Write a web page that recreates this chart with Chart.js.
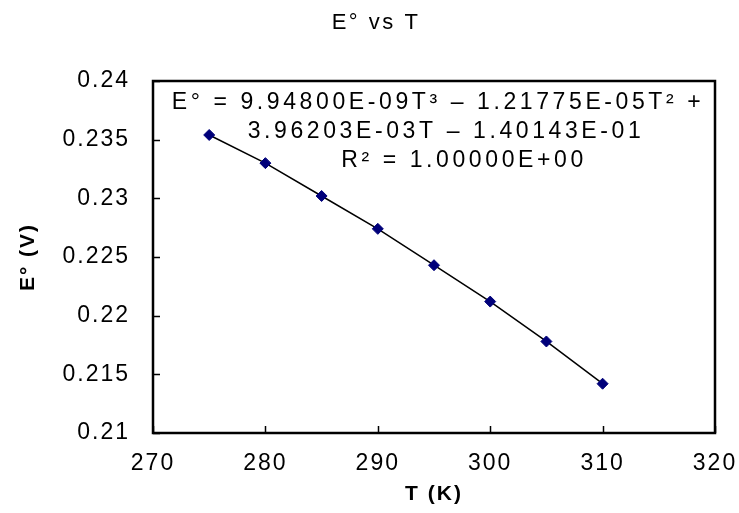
<!DOCTYPE html>
<html>
<head>
<meta charset="utf-8">
<script src="https://cdn.jsdelivr.net/npm/chart.js@4.4.1/dist/chart.umd.min.js"></script>
<style>
  html, body { margin: 0; padding: 0; background: #fff; }
  canvas { display: block; }
</style>
</head>
<body>
<canvas id="eChart" width="739" height="513"></canvas>
<script>
const temps = [275, 280, 285, 290, 295, 300, 305, 310];
const potentials = [0.2354, 0.2330, 0.2302, 0.2274, 0.2243, 0.2212, 0.2178, 0.2142];
const xTickLabels = ['270', '280', '290', '300', '310', '320'];
const yTickLabels = ['0.21', '0.215', '0.22', '0.225', '0.23', '0.235', '0.24'];
const equationLines = [
    'E° = 9.94800E-09T³ – 1.21775E-05T² +',
    '3.96203E-03T – 1.40143E-01',
    'R² = 1.00000E+00'
];

const FONT = "'Liberation Sans', Arial, sans-serif";

// Excel-style look: spaced letters, inner ticks, boxed plot area
const excelLook = {
    id: 'excelLook',
    beforeUpdate(chart) { chart.ctx.letterSpacing = '2px'; },
    beforeDraw(chart) { chart.ctx.letterSpacing = '2px'; },
    afterDraw(chart) {
        const ctx = chart.ctx;
        const a = chart.chartArea;
        const xs = chart.scales.x, ys = chart.scales.y;
        ctx.save();
        ctx.strokeStyle = '#000';
        ctx.lineWidth = 1.5;
        ctx.beginPath();
        xs.ticks.forEach(t => {
            const px = Math.round(xs.getPixelForValue(t.value)) + 0.5;
            ctx.moveTo(px, a.bottom);
            ctx.lineTo(px, a.bottom - 7);
        });
        ys.ticks.forEach(t => {
            const py = Math.round(ys.getPixelForValue(t.value)) + 0.5;
            ctx.moveTo(a.left, py);
            ctx.lineTo(a.left + 7, py);
        });
        ctx.stroke();
        ctx.lineWidth = 2.5;
        ctx.strokeRect(a.left, a.top, a.right - a.left, a.bottom - a.top);

        ctx.fillStyle = '#000';
        ctx.textAlign = 'center';
        ctx.textBaseline = 'middle';
        ctx.font = '22px ' + FONT;
        ctx.letterSpacing = '2.5px';
        ctx.fillText('E° vs T', 376, 23);

        ctx.font = '23px ' + FONT;
        ctx.letterSpacing = '3.6px';
        const offsets = [285, 293, 311];
        equationLines.forEach((line, i) => {
            ctx.fillText(line, a.left + offsets[i], a.top + 22 + i * 29);
        });
        ctx.restore();
    }
};

new Chart(document.getElementById('eChart').getContext('2d'), {
    type: 'scatter',
    data: {
        datasets: [{
            data: temps.map((t, i) => ({ x: t, y: potentials[i] })),
            showLine: true,
            borderColor: '#000',
            borderWidth: 1.5,
            pointStyle: 'rectRot',
            pointRadius: 5.5,
            pointBackgroundColor: '#00007a',
            pointBorderColor: '#00007a',
            pointBorderWidth: 1
        }]
    },
    options: {
        responsive: false,
        animation: false,
        layout: { padding: { top: 81, right: 24, bottom: 0, left: 0 } },
        plugins: {
            legend: { display: false },
            tooltip: { enabled: false },
            title: { display: false }
        },
        scales: {
            x: {
                type: 'linear',
                min: 270,
                max: 320,
                afterFit: s => { s.height = 80; s.paddingLeft = 0; s.paddingRight = 0; },
                afterBuildTicks: s => {
                    s.ticks = xTickLabels.map(v => ({ value: Number(v) }));
                },
                grid: { display: false, drawTicks: false },
                border: { display: false },
                ticks: {
                    padding: 17,
                    color: '#000',
                    font: { size: 23, family: FONT },
                    maxRotation: 0,
                    callback: (v, i) => xTickLabels[i]
                },
                title: {
                    display: true,
                    text: 'T (K)',
                    color: '#000',
                    font: { size: 21, weight: 'bold', family: FONT },
                    padding: { top: 6, bottom: 6 }
                }
            },
            y: {
                min: 0.21,
                max: 0.24,
                afterFit: s => { s.width = 153; s.paddingTop = 0; s.paddingBottom = 0; },
                afterBuildTicks: s => {
                    s.ticks = yTickLabels.map(v => ({ value: Number(v) }));
                },
                grid: { display: false, drawTicks: false },
                border: { display: false },
                ticks: {
                    padding: 23,
                    color: '#000',
                    font: { size: 23, family: FONT },
                    callback: (v, i) => yTickLabels[i]
                },
                title: {
                    display: true,
                    text: 'E° (V)',
                    color: '#000',
                    font: { size: 21, weight: 'bold', family: FONT },
                    padding: { top: 16, bottom: 0 }
                }
            }
        }
    },
    plugins: [excelLook]
});
</script>
</body>
</html>
